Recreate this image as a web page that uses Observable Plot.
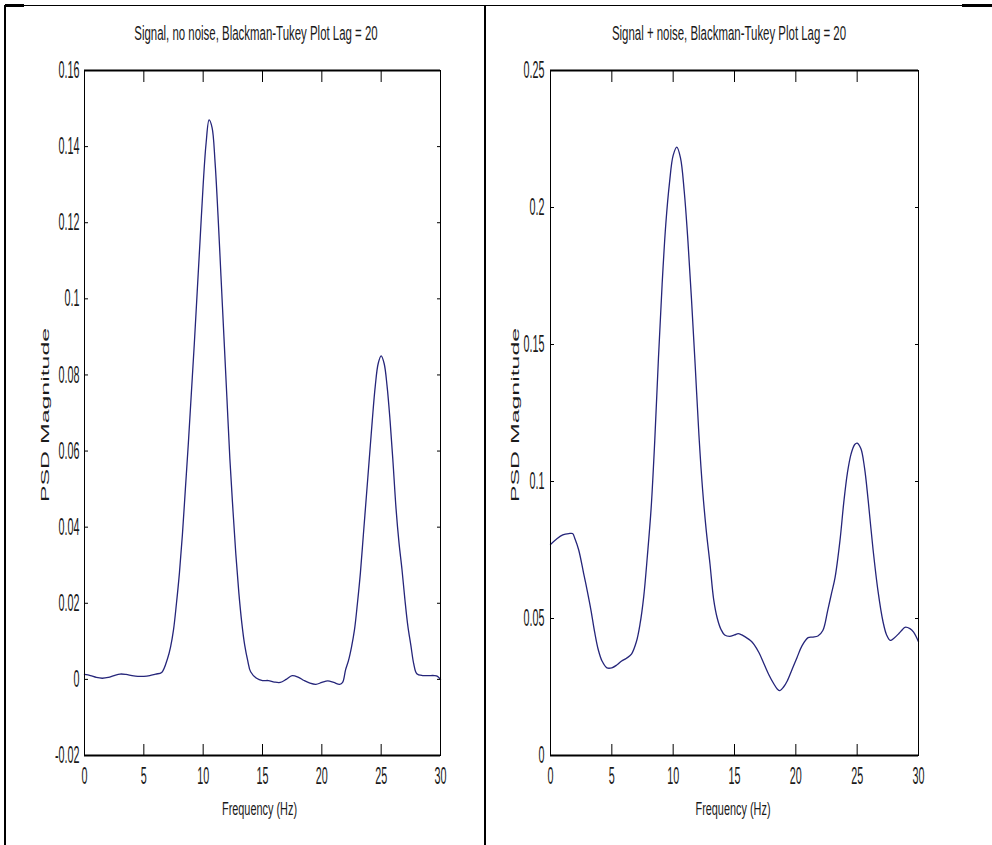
<!DOCTYPE html>
<html>
<head>
<meta charset="utf-8">
<script src="https://cdn.jsdelivr.net/npm/d3@7"></script>
<script src="https://cdn.jsdelivr.net/npm/@observablehq/plot@0.6"></script>
<style>
  html, body { margin: 0; padding: 0; background: #fff; }
  #page { position: relative; width: 992px; height: 845px; overflow: hidden; background: #fff; font-family: "Liberation Sans", Arial, sans-serif; }
  .bar { position: absolute; background: #000; }
  .lbl { position: absolute; white-space: nowrap; color: #1a1a1a; line-height: 1; }
  .panel { position: absolute; top: 0; }
  .panel svg { overflow: visible; }
</style>
</head>
<body>
<div id="page">
  <div class="bar" style="left:4px;top:5px;width:2px;height:840px"></div>
  <div class="bar" style="left:484px;top:5px;width:2px;height:840px"></div>
  <div class="bar" style="left:5px;top:5px;width:957px;height:1px"></div>
  <div class="bar" style="left:5px;top:4px;width:19px;height:3px"></div>
  <div class="bar" style="left:962px;top:4px;width:30px;height:3px"></div>
  <div id="left" class="panel" style="left:0px"></div>
  <div id="right" class="panel" style="left:490px"></div>
</div>
<script>
// ---------- data ----------
const titles = ["Signal, no noise, Blackman-Tukey Plot Lag = 20", "Signal + noise, Blackman-Tukey Plot Lag = 20"];
const xLabel = "Frequency (Hz)";
const yLabel = "PSD Magnitude";

const xDomain = [0, 30];
const xTicks = [0, 5, 10, 15, 20, 25, 30];

const yDomainLeft = [-0.02, 0.16];
const yTicksLeft = [-0.02, 0, 0.02, 0.04, 0.06, 0.08, 0.1, 0.12, 0.14, 0.16];
const yDomainRight = [0, 0.25];
const yTicksRight = [0, 0.05, 0.1, 0.15, 0.2, 0.25];

const freqLeft = [0, 0.5, 1, 1.5, 2, 2.5, 3, 3.5, 4, 4.5, 5, 5.5, 6, 6.5, 7, 7.25, 7.5, 7.75, 8, 8.25, 8.5, 8.75, 9, 9.25, 9.5, 9.75, 10, 10.25, 10.5, 10.75, 11, 11.25, 11.5, 11.75, 12, 12.25, 12.5, 12.75, 13, 13.25, 13.5, 13.75, 14, 14.5, 15, 15.5, 16, 16.5, 17, 17.5, 18, 18.5, 19, 19.5, 20, 20.5, 21, 21.5, 21.75, 22, 22.25, 22.5, 22.75, 23, 23.25, 23.5, 23.75, 24, 24.25, 24.5, 24.75, 25, 25.25, 25.5, 25.75, 26, 26.25, 26.5, 26.75, 27, 27.25, 27.5, 27.75, 28, 28.5, 29, 29.5, 29.75, 30];
const psdLeft = [0.0013, 0.0010, 0.0005, 0.0003, 0.0005, 0.0010, 0.0014, 0.0013, 0.0010, 0.0008, 0.0008, 0.0010, 0.0014, 0.0018, 0.0055, 0.0085, 0.013, 0.020, 0.028, 0.038, 0.050, 0.062, 0.075, 0.088, 0.102, 0.116, 0.130, 0.141, 0.147, 0.145, 0.136, 0.122, 0.106, 0.090, 0.074, 0.058, 0.045, 0.033, 0.023, 0.015, 0.009, 0.005, 0.002, 0.0003, -0.0003, -0.0003, -0.0007, -0.0008, 0.0000, 0.0010, 0.0006, -0.0003, -0.0010, -0.0013, -0.0008, -0.0004, -0.0008, -0.0013, -0.0008, 0.0025, 0.005, 0.0085, 0.013, 0.020, 0.028, 0.038, 0.048, 0.058, 0.068, 0.077, 0.083, 0.085, 0.083, 0.077, 0.068, 0.057, 0.045, 0.036, 0.029, 0.021, 0.014, 0.009, 0.004, 0.0015, 0.0010, 0.0010, 0.0010, 0.0008, 0.0000];

const freqRight = [0, 0.5, 1, 1.5, 1.8, 2, 2.3, 2.7, 3, 3.3, 3.6, 3.9, 4.2, 4.6, 5, 5.4, 5.8, 6.2, 6.6, 7, 7.3, 7.6, 7.9, 8.2, 8.5, 8.8, 9.1, 9.4, 9.7, 10, 10.3, 10.6, 10.9, 11.2, 11.5, 11.8, 12.1, 12.4, 12.7, 13, 13.3, 13.6, 13.9, 14.2, 14.6, 15, 15.3, 15.6, 15.9, 16.3, 16.6, 17, 17.4, 17.8, 18.2, 18.5, 18.7, 19, 19.3, 19.7, 20.1, 20.5, 21, 21.4, 21.8, 22.2, 22.6, 22.9, 23.2, 23.6, 23.9, 24.2, 24.5, 24.8, 25, 25.3, 25.6, 25.9, 26.3, 26.7, 27.1, 27.4, 27.7, 28, 28.4, 28.7, 28.9, 29.3, 29.6, 30];
const psdRight = [0.0770, 0.0790, 0.0805, 0.0810, 0.0810, 0.0790, 0.0750, 0.0665, 0.0600, 0.0530, 0.0450, 0.0385, 0.0345, 0.0320, 0.0320, 0.0330, 0.0345, 0.0355, 0.0370, 0.0415, 0.0480, 0.0580, 0.0730, 0.0900, 0.1150, 0.1450, 0.1720, 0.1940, 0.2090, 0.2190, 0.2220, 0.2180, 0.2060, 0.1880, 0.1660, 0.1420, 0.1170, 0.0970, 0.0820, 0.0700, 0.0570, 0.0500, 0.0460, 0.0440, 0.0435, 0.0440, 0.0445, 0.0440, 0.0432, 0.0420, 0.0405, 0.0375, 0.0335, 0.0295, 0.0262, 0.0242, 0.0237, 0.0250, 0.0272, 0.0315, 0.0358, 0.0400, 0.0430, 0.0432, 0.0436, 0.0456, 0.0530, 0.0590, 0.0650, 0.0785, 0.0920, 0.1030, 0.1100, 0.1135, 0.1140, 0.1120, 0.1050, 0.0930, 0.0750, 0.0600, 0.0490, 0.0440, 0.0420, 0.0428, 0.0445, 0.0460, 0.0468, 0.0463, 0.0450, 0.0415];

// ---------- drawing ----------
const fmt = d => String(+(+d).toFixed(4));
const lineColor = "#25257a";

function stretchText(svg, s) {
  svg.querySelectorAll("text").forEach(t => {
    const x = +t.getAttribute("x") || 0, y = +t.getAttribute("y") || 0;
    const tr = t.getAttribute("transform") || "";
    t.setAttribute("transform", `${tr} translate(${x},${y}) scale(1,${s}) translate(${-x},${-y})`);
  });
}

function panel(freq, psd, yDomain, yTicks, opts) {
  const data = freq.map((f, i) => ({f, v: psd[i]}));
  const svg = Plot.plot({
    width: opts.width, height: 800,
    marginLeft: opts.ml, marginRight: opts.mr, marginTop: 70, marginBottom: 45,
    style: {background: "transparent", fontFamily: "'Liberation Sans', Arial, sans-serif", fontSize: "10.8px", color: "#1a1a1a", overflow: "visible"},
    x: {domain: xDomain, label: null},
    y: {domain: yDomain, label: null},
    marks: [
      Plot.line(data, {x: "f", y: "v", stroke: lineColor, strokeWidth: 1.3, curve: "catmull-rom"}),
      Plot.ruleY([yDomain[0], yDomain[1]], {stroke: "#000", strokeWidth: 2}),
      Plot.ruleX([xDomain[0], xDomain[1]], {stroke: "#000", strokeWidth: 1}),
      // tick labels
      Plot.axisX(xTicks, {anchor: "bottom", tickSize: 0, tickPadding: 12, tickFormat: fmt, label: null}),
      Plot.axisY(yTicks, {anchor: "left", tickSize: 0, tickPadding: opts.ypad, tickFormat: fmt, label: null}),
      // inward ticks on all four sides
      Plot.axisX(xTicks, {anchor: "bottom", tickSize: 11, dy: -11, tickFormat: () => "", label: null, stroke: "#000"}),
      Plot.axisX(xTicks, {anchor: "top", tickSize: 11, dy: 11, tickFormat: () => "", label: null, stroke: "#000"}),
      Plot.axisY(yTicks, {anchor: "left", tickSize: 4, dx: 4, tickFormat: () => "", label: null, stroke: "#000"}),
      Plot.axisY(yTicks, {anchor: "right", tickSize: 4, dx: -4, tickFormat: () => "", label: null, stroke: "#000"})
    ]
  });
  stretchText(svg, 2.2);
  return svg;
}

document.getElementById("left").appendChild(panel(freqLeft, psdLeft, yDomainLeft, yTicksLeft, {width: 480, ml: 84, mr: 40, ypad: 5}));
document.getElementById("right").appendChild(panel(freqRight, psdRight, yDomainRight, yTicksRight, {width: 480, ml: 60, mr: 52, ypad: 6}));

// ---------- titles and axis labels ----------
const page = document.getElementById("page");
function label(text, x, y, size, transform) {
  const d = document.createElement("div");
  d.className = "lbl";
  d.textContent = text;
  d.style.left = x + "px";
  d.style.top = y + "px";
  d.style.fontSize = size + "px";
  d.style.transform = transform;
  page.appendChild(d);
}
label(titles[0], 256, 34, 11.45, "translate(-50%,-50%) scaleY(1.7)");
label(titles[1], 729, 34, 11.45, "translate(-50%,-50%) scaleY(1.7)");
label(xLabel, 259.5, 809, 10.9, "translate(-50%,-50%) scaleY(1.75)");
label(xLabel, 733, 809, 10.9, "translate(-50%,-50%) scaleY(1.75)");
label(yLabel, 46, 415, 11.3, "translate(-50%,-50%) rotate(-90deg) scaleX(2.2)");
label(yLabel, 516, 415, 11.3, "translate(-50%,-50%) rotate(-90deg) scaleX(2.2)");
</script>
</body>
</html>
